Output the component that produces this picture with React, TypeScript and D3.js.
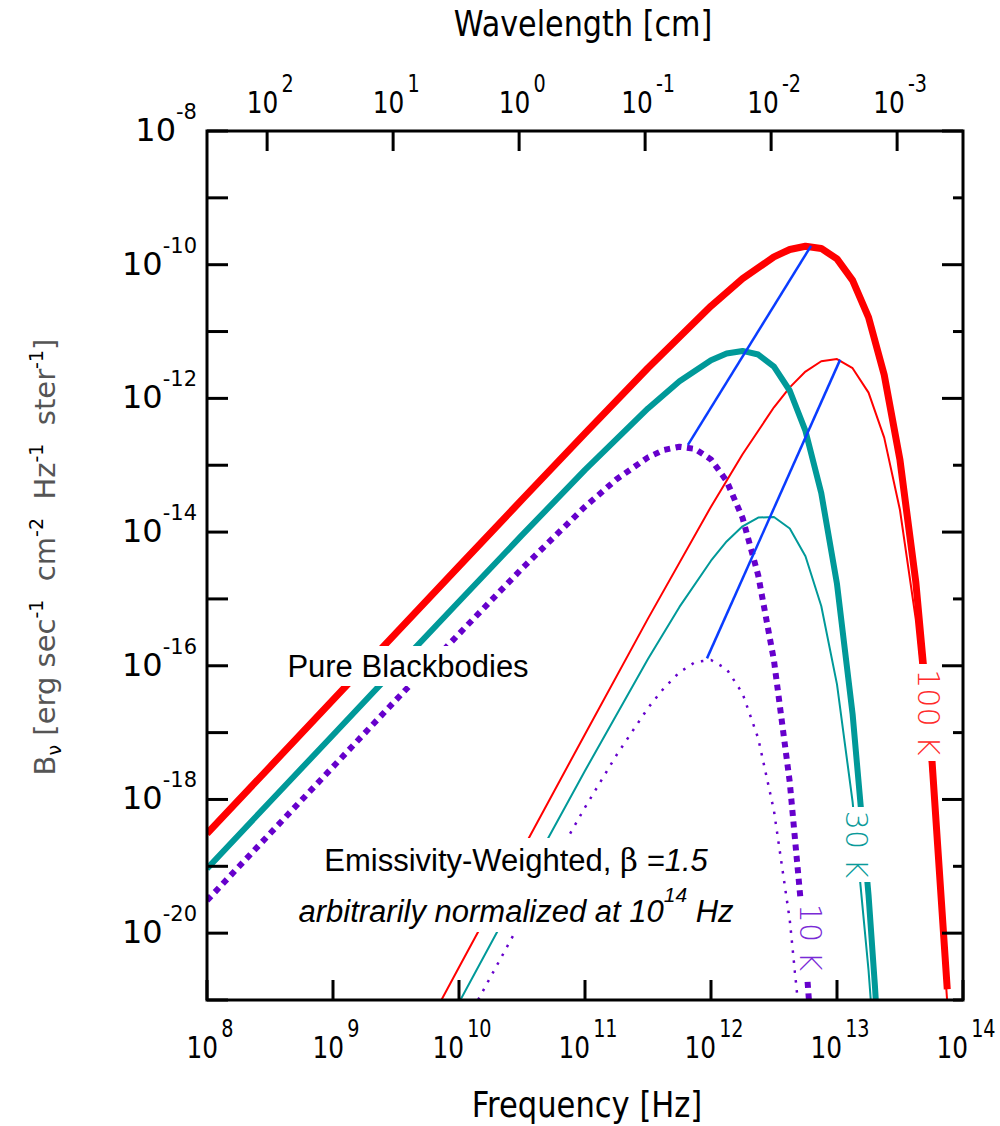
import React, { useEffect, useRef } from 'react';
import * as d3 from 'd3';

// speed of light, cm/s (for the wavelength axis on top)
const C_CM = 3e10;

// axis ticks
const freqTicks = [1e8, 1e9, 1e10, 1e11, 1e12, 1e13, 1e14];
const waveTicks = [1e2, 1e1, 1e0, 1e-1, 1e-2, 1e-3];
const bTicks = [1e-8, 1e-9, 1e-10, 1e-11, 1e-12, 1e-13, 1e-14, 1e-15, 1e-16, 1e-17, 1e-18, 1e-19, 1e-20, 1e-21];
const bLabelled = [1e-8, 1e-10, 1e-12, 1e-14, 1e-16, 1e-18, 1e-20];

// pure blackbodies, B_nu
const bb100Freq = [1e8, 3.16e8, 1e9, 3.16e9, 1e10, 3.16e10, 1e11, 3.16e11, 1e12, 1.78e12, 3.16e12, 4.22e12, 5.62e12, 7.5e12, 1e13, 1.33e13, 1.78e13, 2.37e13, 3.16e13, 4.22e13, 5.62e13, 7.5e13];
const bb100 = [3.08e-19, 3.08e-18, 3.08e-17, 3.08e-16, 3.08e-15, 3.05e-14, 3.0e-13, 2.85e-12, 2.4e-11, 6.17e-11, 1.31e-10, 1.69e-10, 1.89e-10, 1.75e-10, 1.22e-10, 5.82e-11, 1.63e-11, 2.25e-12, 1.2e-13, 1.8e-15, 5.0e-18, 1.45e-21];

const bb30Freq = [1e8, 3.16e8, 1e9, 3.16e9, 1e10, 3.16e10, 1e11, 3.16e11, 5.62e11, 1e12, 1.33e12, 1.78e12, 2.37e12, 3.16e12, 4.22e12, 5.62e12, 7.5e12, 1e13, 1.33e13, 1.78e13, 2e13, 2.09e13];
const bb30 = [9.23e-20, 9.23e-19, 9.23e-18, 9.23e-17, 9.16e-16, 9.0e-15, 8.51e-14, 7.08e-13, 1.8e-12, 3.73e-12, 4.7e-12, 5.13e-12, 4.53e-12, 2.99e-12, 1.3e-12, 3.26e-13, 3.83e-14, 1.67e-15, 1.89e-17, 3.69e-20, 1.62e-21, 4.2e-22];

const bb10Freq = [1e8, 3.16e8, 1e9, 3.16e9, 1e10, 3.16e10, 1e11, 1.78e11, 3.16e11, 4.22e11, 5.62e11, 7.5e11, 1e12, 1.33e12, 1.78e12, 2.37e12, 3.16e12, 4.22e12, 5.62e12, 6.31e12];
const bb10 = [3.08e-20, 3.08e-19, 3.08e-18, 3.08e-17, 3.0e-16, 2.85e-15, 2.4e-14, 6.17e-14, 1.31e-13, 1.69e-13, 1.89e-13, 1.75e-13, 1.22e-13, 5.82e-14, 1.63e-14, 2.25e-15, 1.2e-16, 1.8e-18, 5.0e-21, 2.6e-22];

// emissivity weighted (beta = 1.5), normalized at 1e14 Hz
const ew100Freq = [5.62e9, 1e10, 3.16e10, 1e11, 3.16e11, 1e12, 1.78e12, 3.16e12, 4.22e12, 5.62e12, 7.5e12, 1e13, 1.33e13, 1.78e13, 2.37e13, 3.16e13, 4.22e13, 5.62e13, 7.5e13];
const ew100 = [4.1e-22, 3.08e-21, 1.71e-19, 9.48e-18, 5.07e-16, 2.4e-14, 1.46e-13, 7.36e-13, 1.46e-12, 2.52e-12, 3.59e-12, 3.87e-12, 2.83e-12, 1.22e-12, 2.59e-13, 2.14e-14, 4.93e-16, 2.11e-18, 9.3e-22];

const ew30Freq = [5.62e9, 1e10, 3.16e10, 1e11, 3.16e11, 5.62e11, 1e12, 1.33e12, 1.78e12, 2.37e12, 3.16e12, 4.22e12, 5.62e12, 7.5e12, 1e13, 1.33e13, 1.78e13, 2e13];
const ew30 = [1.23e-22, 9.16e-22, 5.06e-20, 2.69e-18, 1.26e-16, 7.59e-16, 3.73e-15, 7.23e-15, 1.22e-14, 1.65e-14, 1.68e-14, 1.13e-14, 4.35e-15, 7.85e-16, 5.27e-17, 9.19e-19, 2.77e-21, 1.45e-22];

const ew10Freq = [1e10, 1.78e10, 3.16e10, 5.62e10, 1e11, 1.78e11, 3.16e11, 4.22e11, 5.62e11, 7.5e11, 1e12, 1.33e12, 1.78e12, 2.37e12, 3.16e12, 4.22e12, 5.62e12];
const ew10 = [3.0e-22, 2.21e-21, 1.6e-20, 1.13e-19, 7.59e-19, 4.62e-18, 2.33e-17, 4.61e-17, 7.98e-17, 1.14e-16, 1.22e-16, 8.95e-17, 3.86e-17, 8.2e-18, 6.76e-19, 1.56e-20, 6.68e-23];

// lines joining the peaks (10 K -> 100 K)
const bbPeakFreq = [6.56e11, 6.22e12];
const bbPeak = [2.02e-13, 1.91e-10];
const ewPeakFreq = [9.29e11, 1.06e13];
const ewPeak = [1.29e-16, 3.8e-12];

const RED = '#ff0000';
const TEAL = '#009999';
const PURPLE = '#6600cc';
const BLUE = '#0a3cff';

const expOf = (v: number) => String(Math.round(Math.log10(v)));

export default function App() {
  const ref = useRef<SVGSVGElement>(null);

  useEffect(() => {
    const svg = d3.select(ref.current);
    svg.selectAll('*').remove();

    const left = 207, right = 963, top = 131, bottom = 1000;
    const x = d3.scaleLog().domain([1e8, 1e14]).range([left, right]);
    const xw = d3.scaleLog().domain([C_CM / 1e8, C_CM / 1e14]).range([left, right]);
    const y = d3.scaleLog().domain([1e-21, 1e-8]).range([bottom, top]);

    svg.append('defs').append('clipPath').attr('id', 'plot')
      .append('rect').attr('x', left).attr('y', top)
      .attr('width', right - left).attr('height', bottom - top);

    const line = d3.line<[number, number]>()
      .x(d => x(d[0]))
      .y(d => y(d[1]));

    const series = [
      { f: ew10Freq, v: ew10, color: PURPLE, w: 2.5, dash: '2.5 7.5' },
      { f: ew30Freq, v: ew30, color: TEAL, w: 2, dash: null },
      { f: ew100Freq, v: ew100, color: RED, w: 2, dash: null },
      { f: bb10Freq, v: bb10, color: PURPLE, w: 6, dash: '6 5.5' },
      { f: bb30Freq, v: bb30, color: TEAL, w: 6, dash: null },
      { f: bb100Freq, v: bb100, color: RED, w: 7, dash: null },
      { f: bbPeakFreq, v: bbPeak, color: BLUE, w: 2.5, dash: null },
      { f: ewPeakFreq, v: ewPeak, color: BLUE, w: 2.5, dash: null },
    ];

    const g = svg.append('g').attr('clip-path', 'url(#plot)');
    series.forEach(s => {
      const pts = s.f.map((f, i) => [f, s.v[i]] as [number, number]);
      g.append('path')
        .attr('d', line(pts))
        .attr('fill', 'none')
        .attr('stroke', s.color)
        .attr('stroke-width', s.w)
        .attr('stroke-linejoin', 'round')
        .attr('stroke-dasharray', s.dash);
    });

    // curve labels, written along the falling side
    const curveLabels = [
      { text: '100 K', cx: 929, y0: 664, y1: 761, color: '#ff2a2a' },
      { text: '30 K', cx: 857, y0: 807, y1: 882, color: '#0a9a9a' },
      { text: '10 K', cx: 811, y0: 898, y1: 977, color: '#7a2ad6' },
    ];
    curveLabels.forEach(l => {
      svg.append('rect')
        .attr('x', l.cx - 15).attr('y', l.y0)
        .attr('width', 30).attr('height', l.y1 - l.y0)
        .attr('fill', '#fff');
      svg.append('text')
        .attr('transform', `translate(${l.cx - 11},${(l.y0 + l.y1) / 2}) rotate(90)`)
        .attr('text-anchor', 'middle')
        .attr('font-family', 'DejaVu Sans')
        .attr('font-weight', 200)
        .attr('font-size', 30)
        .attr('fill', l.color)
        .text(l.text);
    });

    // white boxes behind the annotations
    svg.append('rect').attr('x', 280).attr('y', 646).attr('width', 257).attr('height', 40).attr('fill', '#fff');
    svg.append('rect').attr('x', 290).attr('y', 838).attr('width', 452).attr('height', 94).attr('fill', '#fff');

    // frame
    svg.append('rect')
      .attr('x', left).attr('y', top)
      .attr('width', right - left).attr('height', bottom - top)
      .attr('fill', 'none').attr('stroke', '#000').attr('stroke-width', 3);

    // ticks
    const ticks = svg.append('g').attr('stroke', '#000').attr('stroke-width', 3);
    bTicks.forEach((b, i) => {
      ticks.append('line').attr('x1', left).attr('x2', left + 21).attr('y1', y(b)).attr('y2', y(b));
      const len = i % 2 === 0 ? 21 : 10;
      ticks.append('line').attr('x1', right).attr('x2', right - len).attr('y1', y(b)).attr('y2', y(b));
    });
    freqTicks.forEach(f => {
      ticks.append('line').attr('x1', x(f)).attr('x2', x(f)).attr('y1', bottom).attr('y2', bottom - 20);
    });
    waveTicks.forEach(w => {
      ticks.append('line').attr('x1', xw(w)).attr('x2', xw(w)).attr('y1', top).attr('y2', top + 20);
    });

    // y tick labels
    bLabelled.forEach(b => {
      const t = svg.append('text')
        .attr('x', 197).attr('y', y(b) + 10)
        .attr('text-anchor', 'end')
        .attr('font-family', 'DejaVu Sans')
        .attr('font-size', 32)
        .attr('fill', '#000');
      t.append('tspan').text('10');
      t.append('tspan').attr('dy', -22).attr('font-size', 21).text(expOf(b));
    });

    // condensed labels on the frequency / wavelength axes
    const narrow = (px: number, py: number, size: number, sx: number) =>
      svg.append('text')
        .attr('transform', `translate(${px},${py}) scale(${sx},1)`)
        .attr('text-anchor', 'middle')
        .attr('font-family', 'DejaVu Sans')
        .attr('font-size', size)
        .attr('fill', '#000');

    freqTicks.forEach(f => {
      const t = narrow(x(f) + 3, 1058, 31, 0.8);
      t.append('tspan').text('10');
      t.append('tspan').attr('dx', 4).attr('dy', -21).attr('font-size', 24).text(expOf(f));
    });
    waveTicks.forEach(w => {
      const t = narrow(xw(w) + 3, 113, 31, 0.8);
      t.append('tspan').text('10');
      t.append('tspan').attr('dx', 4).attr('dy', -21).attr('font-size', 24).text(expOf(w));
    });
    narrow(587, 1117, 36, 0.85).text('Frequency [Hz]');
    narrow(583, 36, 36, 0.84).text('Wavelength [cm]');

    // y axis title
    const yt = svg.append('text')
      .attr('transform', 'translate(55,557) rotate(-90)')
      .attr('text-anchor', 'middle')
      .attr('font-family', 'DejaVu Sans')
      .attr('font-size', 29)
      .attr('fill', '#555')
      .style('white-space', 'pre');
    yt.append('tspan').text('B');
    yt.append('tspan').attr('dy', 6).attr('font-size', 19).attr('fill', '#000').text('ν');
    yt.append('tspan').attr('dy', -6).text(' [erg sec');
    yt.append('tspan').attr('dy', -12).attr('font-size', 19).attr('fill', '#000').text('-1');
    yt.append('tspan').attr('dy', 12).text('  cm');
    yt.append('tspan').attr('dy', -12).attr('font-size', 19).attr('fill', '#000').text('-2');
    yt.append('tspan').attr('dy', 12).text('  Hz');
    yt.append('tspan').attr('dy', -12).attr('font-size', 19).attr('fill', '#000').text('-1');
    yt.append('tspan').attr('dy', 12).text('  ster');
    yt.append('tspan').attr('dy', -12).attr('font-size', 19).attr('fill', '#000').text('-1');
    yt.append('tspan').attr('dy', 12).text(']');

    // annotations
    const ann = (px: number, py: number) =>
      svg.append('text')
        .attr('x', px).attr('y', py)
        .attr('text-anchor', 'middle')
        .attr('font-family', 'Liberation Sans, Arial, sans-serif')
        .attr('font-size', 31)
        .attr('fill', '#000');

    ann(408, 677).text('Pure Blackbodies');
    const e1 = ann(516, 871);
    e1.append('tspan').text('Emissivity-Weighted, ');
    e1.append('tspan').attr('font-family', 'DejaVu Serif').text('β');
    e1.append('tspan').attr('font-style', 'italic').text(' =1.5');
    const e2 = ann(516, 922).attr('font-style', 'italic');
    e2.append('tspan').text('arbitrarily normalized at 10');
    e2.append('tspan').attr('dy', -20).attr('font-size', 21).text('14');
    e2.append('tspan').attr('dy', 20).text(' Hz');
  }, []);

  return (
    <svg
      ref={ref}
      width={1000}
      height={1126}
      style={{ position: 'absolute', left: 0, top: 0, background: '#fff' }}
    />
  );
}
